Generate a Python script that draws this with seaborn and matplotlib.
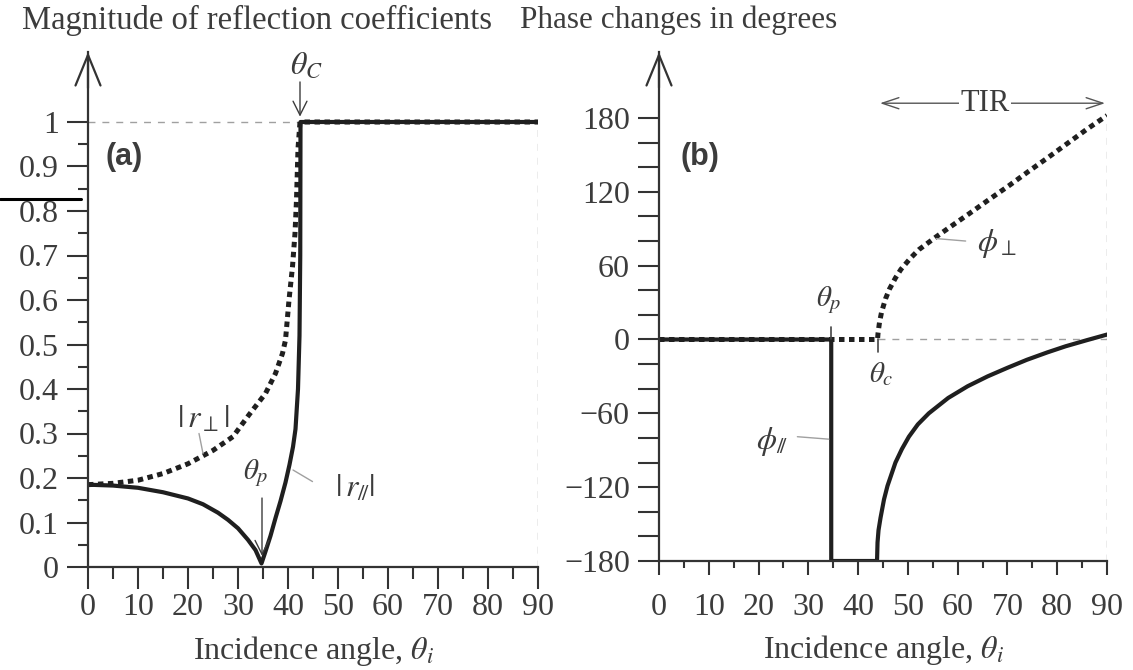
import matplotlib
matplotlib.use("Agg")
import numpy as np
import matplotlib.pyplot as plt
import seaborn as sns
from matplotlib.ticker import FixedLocator, FixedFormatter
from matplotlib.lines import Line2D

# ---------------- data ----------------
# (a) magnitude of reflection coefficients
ang_par = [0, 5, 10, 15, 20, 23, 26, 28, 30, 32, 33.5, 34.7, 35.5, 36.5, 37.5, 38.5, 39.5, 40.3,
           41.0, 41.5, 42.0, 42.3, 42.45, 42.5, 90]
r_par = [0.185, 0.183, 0.178, 0.168, 0.154, 0.141, 0.122, 0.106, 0.087, 0.061, 0.038, 0.008,
         0.035, 0.07, 0.11, 0.148, 0.19, 0.23, 0.27, 0.31, 0.40, 0.52, 0.70, 1.0, 1.0]
ang_perp = [0, 5, 10, 15, 20, 25, 29, 32.2, 35.5, 37.5, 38.9, 39.5, 40.2, 40.9, 41.4, 41.7, 42.0,
            42.4, 90]
r_perp = [0.185, 0.188, 0.195, 0.21, 0.232, 0.262, 0.293, 0.342, 0.39, 0.435, 0.48, 0.51, 0.60,
          0.675, 0.75, 0.825, 0.94, 1.0, 1.0]

# (b) phase changes in degrees
ang_phi_par = [0, 34.6, 34.6, 43.8, 43.9, 44.1, 44.5, 45.2, 45.9, 47.5, 48.8, 50.2, 52, 54.2, 58.1,
               62, 66, 70, 73.9, 78, 81.7, 86, 90]
phi_par = [0, 0, -180, -180, -165, -155, -145, -130, -119, -100, -89, -79, -69, -60, -47.5, -38,
           -30, -23, -16.5, -10.5, -5.5, -0.5, 4]
ang_phi_perp = [0, 43.9, 44.0, 44.3, 44.7, 45.5, 46.3, 47.5, 48.6, 50.5, 52.2, 55.7, 58.5, 62.4,
                66.4, 70.3, 74.2, 78.2, 82.1, 86, 90]
phi_perp = [0, 0, 5, 14, 22, 33, 41, 50, 57, 66, 73, 83.5, 91.5, 102.5, 114, 125, 136.5, 148,
            159.5, 171, 182]

# ticks
a_yticks = [0, 0.1, 0.2, 0.3, 0.4, 0.5, 0.6, 0.7, 0.8, 0.9, 1.0]
a_ylabels = ["0", "0.1", "0.2", "0.3", "0.4", "0.5", "0.6", "0.7", "0.8", "0.9", "1"]
a_yminor = [0.05, 0.15, 0.25, 0.35, 0.45, 0.55, 0.65, 0.75, 0.85, 0.95]
b_yticks = [-180, -120, -60, 0, 60, 120, 180]
b_ylabels = ["\u2212180", "\u2212120", "\u221260", "0", "60", "120", "180"]
b_yminor = [-160, -140, -100, -80, -40, -20, 20, 40, 80, 100, 140, 160]
x_ticks = [0, 10, 20, 30, 40, 50, 60, 70, 80, 90]
x_labels = ["0", "10", "20", "30", "40", "50", "60", "70", "80", "90"]
x_minor = [5, 15, 25, 35, 45, 55, 65, 75, 85]

# ---------------- style ----------------
sns.set_theme(style="ticks")
plt.rcParams["font.family"] = ["Liberation Serif", "DejaVu Serif"]
plt.rcParams["mathtext.fontset"] = "stix"

LINE = "#1f1f1f"
TXT = "#3c3c3c"
GUIDE = "#a0a0a0"
FS = 23

W, H = 1133, 670
fig = plt.figure(figsize=(W / 100, H / 100), dpi=100)
fig.patch.set_facecolor("white")
axL = fig.add_axes([88 / W, 103 / H, 450 / W, 515 / H])
axR = fig.add_axes([659 / W, 109 / H, 448 / W, 509 / H])

dot = (0, (1.1, 0.9))

# ---- (a)
sns.lineplot(x=ang_perp, y=r_perp, ax=axL, sort=False, estimator=None, color=LINE, lw=3.6,
             linestyle=dot)
sns.lineplot(x=ang_par, y=r_par, ax=axL, sort=False, estimator=None, color=LINE, lw=3.0)
axL.set_xlim(0, 90)
axL.set_ylim(0, 515 / 445)

# ---- (b)
sns.lineplot(x=ang_phi_perp, y=phi_perp, ax=axR, sort=False, estimator=None, color=LINE, lw=3.6,
             linestyle=dot)
sns.lineplot(x=ang_phi_par, y=phi_par, ax=axR, sort=False, estimator=None, color=LINE, lw=3.0)
axR.set_xlim(0, 90)
axR.set_ylim(-180, -180 + 509 / 1.2306)

for ax in (axL, axR):
    ax.set_facecolor("white")
    for s in ("top", "right"):
        ax.spines[s].set_visible(False)
    for s in ("left", "bottom"):
        ax.spines[s].set_color("#333333")
        ax.spines[s].set_linewidth(1.6)
    ax.xaxis.set_major_locator(FixedLocator(x_ticks))
    ax.xaxis.set_major_formatter(FixedFormatter(x_labels))
    ax.xaxis.set_minor_locator(FixedLocator(x_minor))
    ax.tick_params(axis="both", which="both", colors="#333333", labelcolor=TXT,
                   labelsize=FS, width=1.5, direction="out")
    ax.set_xlabel(r"Incidence angle, $\theta_i$", fontsize=FS, color=TXT, labelpad=8)
    ax.set_ylabel("")
    # arrow head on the vertical axis
    ax.annotate("", xy=(0, 1.0), xycoords="axes fraction", xytext=(0, 0.93),
                textcoords="axes fraction",
                arrowprops=dict(arrowstyle="->,head_length=1.1,head_width=0.45",
                                color="#333333", lw=1.6, mutation_scale=20, shrinkA=0, shrinkB=0),
                annotation_clip=False)

axL.yaxis.set_major_locator(FixedLocator(a_yticks))
axL.yaxis.set_major_formatter(FixedFormatter(a_ylabels))
axL.yaxis.set_minor_locator(FixedLocator(a_yminor))
axL.tick_params(axis="y", which="major", length=15, pad=6)
axL.tick_params(axis="y", which="minor", length=7.5)
axL.tick_params(axis="x", which="major", length=16, pad=3)
axL.tick_params(axis="x", which="minor", length=8.5)

axR.yaxis.set_major_locator(FixedLocator(b_yticks))
axR.yaxis.set_major_formatter(FixedFormatter(b_ylabels))
axR.yaxis.set_minor_locator(FixedLocator(b_yminor))
axR.tick_params(axis="y", which="both", length=15, pad=6)
axR.tick_params(axis="x", which="major", length=10, pad=13)
axR.tick_params(axis="x", which="minor", length=5)

# ---- guides (a)
axL.plot([0, 42.4], [1, 1], ls=(0, (5, 5)), color=GUIDE, lw=1.0, zorder=1)
axL.plot([90, 90], [0, 1], ls=(0, (5, 5)), color=GUIDE, lw=1.0, zorder=1)
# ---- guides (b)
axR.plot([44, 90], [0, 0], ls=(0, (5, 5)), color=GUIDE, lw=1.0, zorder=1)
axR.plot([90, 90], [-180, 182], ls=(0, (5, 5)), color=GUIDE, lw=1.0, zorder=1)

# ---- annotations (a)
axL.text(7.2, 0.921, "(a)", fontsize=22, fontweight="bold", color=TXT, ha="center", va="center",
         family=["Liberation Sans", "DejaVu Sans"])
axL.annotate("", xy=(42.4, 1.012), xytext=(42.4, 1.09),
             arrowprops=dict(arrowstyle="->,head_length=0.5,head_width=0.25", color=TXT, lw=1.0,
                             mutation_scale=20, shrinkA=0, shrinkB=0), annotation_clip=False)
axL.text(43.6, 1.125, r"$\theta_C$", fontsize=FS, color=TXT, ha="center", va="center")
axL.text(23, 0.33, r"$|\,r_{\perp}|$", fontsize=FS, color=TXT, ha="center", va="center")
axL.plot([22.2, 23.0], [0.30, 0.255], color=GUIDE, lw=1.0)
axL.text(33.6, 0.21, r"$\theta_p$", fontsize=FS - 2, color=TXT, ha="center", va="center")
axL.annotate("", xy=(34.8, 0.025), xytext=(34.8, 0.155),
             arrowprops=dict(arrowstyle="->,head_length=0.5,head_width=0.25", color=TXT, lw=1.0,
                             mutation_scale=20, shrinkA=0, shrinkB=0))
axL.text(53.4, 0.175, r"$|\,r_{/\!/}|$", fontsize=FS, color=TXT, ha="center", va="center")
axL.plot([41.0, 44.9], [0.218, 0.192], color=GUIDE, lw=1.0)

# ---- annotations (b)
axR.text(8.2, 148.7, "(b)", fontsize=22, fontweight="bold", color=TXT, ha="center", va="center",
         family=["Liberation Sans", "DejaVu Sans"])
axR.annotate("", xy=(44.4, 192), xytext=(89.6, 192),
             arrowprops=dict(arrowstyle="<->,head_length=0.6,head_width=0.2", color="#555555",
                             lw=1.0, mutation_scale=20, shrinkA=0, shrinkB=0),
             annotation_clip=False)
axR.text(65.5, 192, "TIR", fontsize=FS - 1, color=TXT, ha="center", va="center",
         bbox=dict(facecolor="white", edgecolor="none", pad=1))
axR.text(67.8, 78, r"$\phi_{\perp}$", fontsize=FS, color=TXT, ha="center", va="center")
axR.plot([55.7, 61.6], [82, 80], color=GUIDE, lw=1.0)
axR.text(34.2, 32, r"$\theta_p$", fontsize=FS - 2, color=TXT, ha="center", va="center")
axR.plot([34.6, 34.6], [0, 10], color="#444444", lw=1.2)
axR.text(44.6, -28, r"$\theta_c$", fontsize=FS - 2, color=TXT, ha="center", va="center")
axR.plot([43.9, 43.9], [0, -10], color="#444444", lw=1.2)
axR.text(22.8, -83, r"$\phi_{/\!/}$", fontsize=FS, color=TXT, ha="center", va="center")
axR.plot([27.8, 34.1], [-79, -81], color=GUIDE, lw=1.0)

# ---- titles
fig.text(22 / W, 1 - 20 / H, "Magnitude of reflection coefficients", fontsize=FS + 0.5, color=TXT,
         ha="left", va="center")
fig.text(520 / W, 1 - 20 / H, "Phase changes in degrees", fontsize=FS - 0.5, color=TXT,
         ha="left", va="center")

# scan artifact line at left edge
fig.add_artist(Line2D([0, 81 / W], [1 - 199 / H, 1 - 199 / H], color="black", lw=2.2))

fig.savefig("out.png", dpi=100, facecolor="white")
